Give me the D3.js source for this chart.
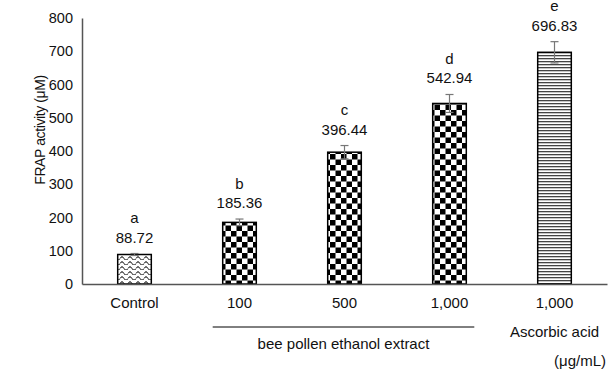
<!DOCTYPE html>
<html>
<head>
<meta charset="utf-8">
<script src="https://cdn.jsdelivr.net/npm/d3@7"></script>
<style>
  html, body { margin: 0; padding: 0; background: #fff; }
  text { font-family: "Liberation Sans", Arial, Helvetica, sans-serif; fill: #111; }
</style>
</head>
<body>
<svg id="chart" width="611" height="373"></svg>
<script>
const categories = ["Control", "100", "500", "1,000", "1,000"];
const values = [88.72, 185.36, 396.44, 542.94, 696.83];
const errors = [3, 10, 20, 27, 32];
const letters = ["a", "b", "c", "d", "e"];
const fills = ["wave", "checker", "checker", "checker", "stripes"];
const yTicks = [0, 100, 200, 300, 400, 500, 600, 700, 800];
const yLabel = "FRAP activity (μM)";
const groupLabel = "bee pollen ethanol extract";
const refLabel = "Ascorbic acid";
const unitLabel = "(μg/mL)";

const svg = d3.select("#chart");
const defs = svg.append("defs");

// checker pattern
const ck = defs.append("pattern").attr("id", "checker")
  .attr("patternUnits", "userSpaceOnUse").attr("width", 11).attr("height", 11);
ck.append("rect").attr("width", 11).attr("height", 11).attr("fill", "#fff");
ck.append("rect").attr("x", 0).attr("y", 0).attr("width", 5.5).attr("height", 5.5).attr("fill", "#000");
ck.append("rect").attr("x", 5.5).attr("y", 5.5).attr("width", 5.5).attr("height", 5.5).attr("fill", "#000");

// stripes pattern
const st = defs.append("pattern").attr("id", "stripes")
  .attr("patternUnits", "userSpaceOnUse").attr("width", 6).attr("height", 3);
st.append("rect").attr("width", 6).attr("height", 3).attr("fill", "#fff");
st.append("rect").attr("y", 1).attr("width", 6).attr("height", 1.3).attr("fill", "#444");

// wave pattern
const wv = defs.append("pattern").attr("id", "wave")
  .attr("patternUnits", "userSpaceOnUse").attr("width", 8).attr("height", 5);
wv.append("rect").attr("width", 8).attr("height", 5).attr("fill", "#fff");
wv.append("path").attr("d", "M0,3.5 Q2,0 4,3.5 T8,3.5")
  .attr("fill", "none").attr("stroke", "#000").attr("stroke-width", 1);

const x = d3.scaleBand().domain(d3.range(categories.length)).range([82, 607]).paddingInner(0.68).paddingOuter(0.34);
const y = d3.scaleLinear().domain([0, 800]).range([284, 18]);

// bars
svg.selectAll("rect.bar").data(values).join("rect")
  .attr("class", "bar")
  .attr("x", (d, i) => x(i))
  .attr("y", d => y(d))
  .attr("width", x.bandwidth())
  .attr("height", d => y(0) - y(d))
  .attr("fill", (d, i) => `url(#${fills[i]})`)
  .attr("stroke", "#000").attr("stroke-width", 1.5);

// error bars
const eb = svg.append("g").attr("stroke", "#777").attr("stroke-width", 1.2);
values.forEach((v, i) => {
  const cx = x(i) + x.bandwidth() / 2;
  eb.append("line").attr("x1", cx).attr("x2", cx).attr("y1", y(v - errors[i])).attr("y2", y(v + errors[i]));
  eb.append("line").attr("x1", cx - 4).attr("x2", cx + 4).attr("y1", y(v + errors[i])).attr("y2", y(v + errors[i]));
  eb.append("line").attr("x1", cx - 4).attr("x2", cx + 4).attr("y1", y(v - errors[i])).attr("y2", y(v - errors[i]));
});

// value + letter labels
values.forEach((v, i) => {
  const cx = x(i) + x.bandwidth() / 2;
  const top = y(v + errors[i]);
  svg.append("text").attr("x", cx).attr("y", top - 11).attr("text-anchor", "middle")
    .attr("font-size", "15px").text(v.toFixed(2));
  svg.append("text").attr("x", cx).attr("y", top - 30.5).attr("text-anchor", "middle")
    .attr("font-size", "15px").text(letters[i]);
});

// y axis
const yAxis = d3.axisLeft(y).tickValues(yTicks).tickSize(0).tickPadding(9);
const gy = svg.append("g").attr("transform", "translate(82,0)").call(yAxis);
gy.select(".domain").attr("stroke", "#555").attr("stroke-width", 1.5);
gy.selectAll("text").attr("font-size", "14.5px").attr("fill", "#111")
  .attr("font-family", '"Liberation Sans", Arial, sans-serif');

// x axis
const xAxis = d3.axisBottom(x).tickFormat(i => categories[i]).tickSize(0).tickPadding(13);
const gx = svg.append("g").attr("transform", "translate(0,284)").call(xAxis);
gx.select(".domain").attr("stroke", "#555").attr("stroke-width", 1.5);
gx.selectAll("text").attr("font-size", "15px").attr("fill", "#111")
  .attr("font-family", '"Liberation Sans", Arial, sans-serif');

// y label
svg.append("text").attr("transform", "translate(45,130) rotate(-90)")
  .attr("text-anchor", "middle").attr("font-size", "14px").attr("letter-spacing", "-0.4px")
  .text(yLabel);

// group bracket line
svg.append("line").attr("x1", x(1) - 10).attr("x2", x(3) + x.bandwidth() + 8)
  .attr("y1", 327).attr("y2", 327).attr("stroke", "#000").attr("stroke-width", 1);
svg.append("text").attr("x", (x(1) - 10 + x(3) + x.bandwidth() + 8) / 2).attr("y", 349)
  .attr("text-anchor", "middle").attr("font-size", "15px").text(groupLabel);
svg.append("text").attr("x", x(4) + x.bandwidth() / 2).attr("y", 337)
  .attr("text-anchor", "middle").attr("font-size", "15px").text(refLabel);
svg.append("text").attr("x", 606).attr("y", 366)
  .attr("text-anchor", "end").attr("font-size", "15px").text(unitLabel);
</script>
</body>
</html>
